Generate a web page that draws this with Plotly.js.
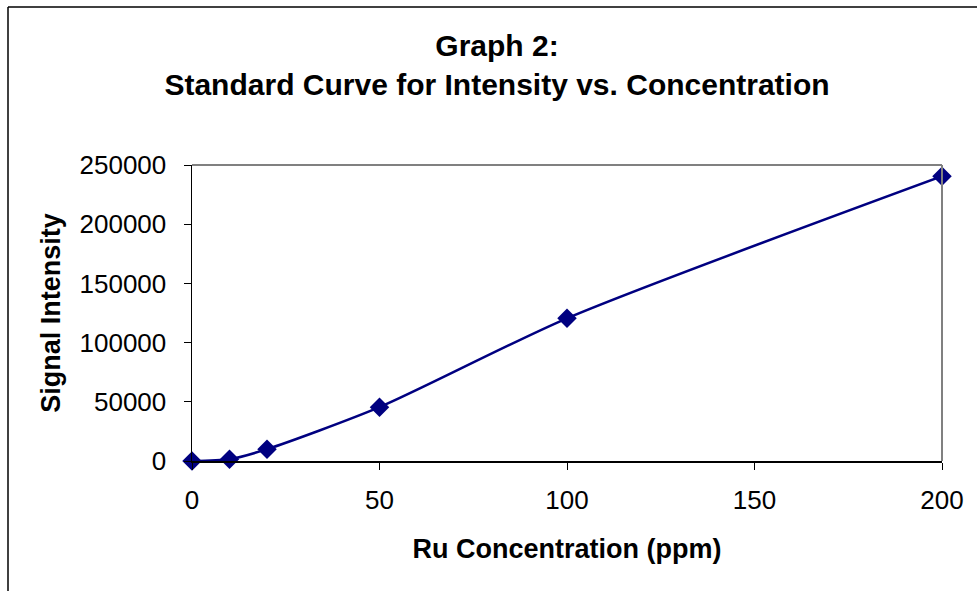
<!DOCTYPE html>
<html>
<head>
<meta charset="utf-8">
<script src="https://cdn.plot.ly/plotly-3.0.1.min.js"></script>
<style>
  html, body { margin: 0; padding: 0; background: #fff; }
  #chart { width: 977px; height: 591px; }
</style>
</head>
<body>
<div id="chart"></div>
<script>
const concentration = [0, 10, 20, 50, 100, 200];
const intensity = [0, 1500, 10000, 45500, 120500, 240500];
const xTicks = [0, 50, 100, 150, 200];
const yTicks = [0, 50000, 100000, 150000, 200000, 250000];

const navy = '#000080';
const font = 'Liberation Sans, Arial, sans-serif';

const trace = {
  x: concentration,
  y: intensity,
  type: 'scatter',
  mode: 'lines+markers',
  line: { color: navy, width: 2.5, shape: 'spline', smoothing: 0.7 },
  marker: { symbol: 'diamond', size: 15, color: navy },
  cliponaxis: false,
  showlegend: false
};

const W = 977, H = 591, L = 192, R = 35, T = 165, B = 130;
const pw = W - L - R, ph = H - T - B;
const px = v => (v - L) / pw;
const py = v => (H - B - v) / ph;

const layout = {
  width: W, height: H,
  margin: { l: L, r: R, t: T, b: B, pad: 0 },
  paper_bgcolor: '#ffffff',
  plot_bgcolor: '#ffffff',
  font: { family: font, color: '#000000' },
  title: {
    text: '<b>Graph 2:<br>Standard Curve for Intensity vs. Concentration</b>',
    font: { family: font, size: 30, color: '#000000' },
    x: 497 / 977, xanchor: 'center', xref: 'container',
    yref: 'container', y: 1 - 56 / 591, yanchor: 'middle'
  },
  xaxis: {
    range: [0, 200],
    tickvals: xTicks,
    ticktext: xTicks.map(String),
    showgrid: false, zeroline: false,
    showline: true, linecolor: '#000000', linewidth: 1.5,
    ticks: 'outside', ticklen: 7, tickcolor: '#000000', tickwidth: 1,
    tickfont: { family: font, size: 26, color: '#000000' },
    ticklabelstandoff: 8,
    title: { text: '<b>Ru Concentration (ppm)</b>', font: { family: font, size: 27, color: '#000000' }, standoff: 25 },
    fixedrange: true
  },
  yaxis: {
    range: [0, 250000],
    tickvals: yTicks,
    ticktext: yTicks.map(String),
    showgrid: false, zeroline: false,
    showline: true, linecolor: '#000000', linewidth: 1.5,
    ticks: 'outside', ticklen: 7, tickcolor: '#000000', tickwidth: 1,
    tickfont: { family: font, size: 26, color: '#000000' },
    ticklabelstandoff: 12,
    title: { text: '<b>Signal Intensity</b>', font: { family: font, size: 27, color: '#000000' }, standoff: 11 },
    fixedrange: true
  },
  shapes: [
    { type: 'line', xref: 'paper', yref: 'paper', x0: 0, x1: 1, y0: 1, y1: 1, line: { color: '#808080', width: 2 } },
    { type: 'line', xref: 'paper', yref: 'paper', x0: 1, x1: 1, y0: 0, y1: 1, line: { color: '#808080', width: 2 } },
    { type: 'line', xref: 'paper', yref: 'paper', x0: px(8), x1: px(977), y0: py(7), y1: py(7), line: { color: '#000000', width: 1.5 } },
    { type: 'line', xref: 'paper', yref: 'paper', x0: px(8), x1: px(8), y0: py(7), y1: py(591), line: { color: '#000000', width: 1.5 } }
  ]
};

Plotly.newPlot('chart', [trace], layout, { displayModeBar: false, staticPlot: true });
</script>
</body>
</html>
